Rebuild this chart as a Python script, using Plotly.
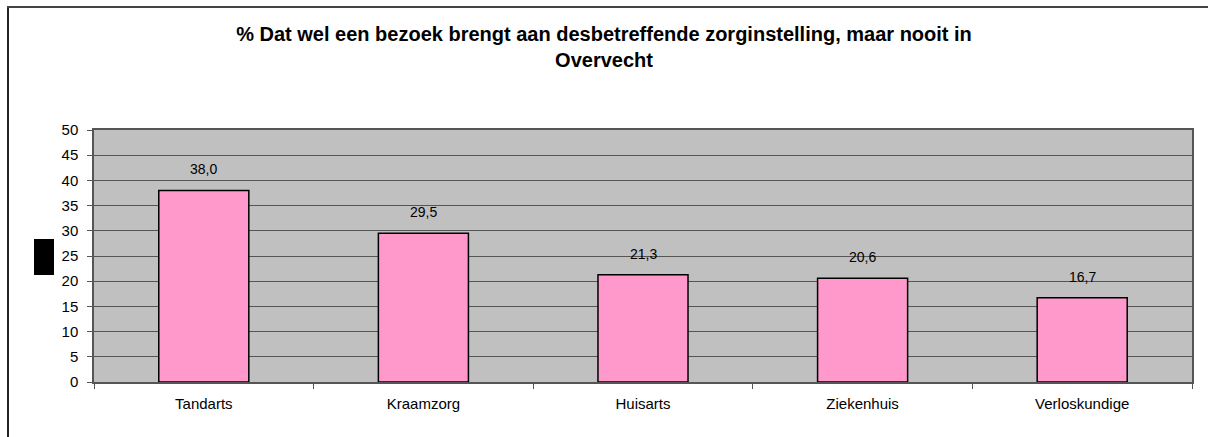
import plotly.graph_objects as go

categories = ["Tandarts", "Kraamzorg", "Huisarts", "Ziekenhuis", "Verloskundige"]
values = [38.0, 29.5, 21.3, 20.6, 16.7]
value_labels = ["38,0", "29,5", "21,3", "20,6", "16,7"]
title_lines = ["% Dat wel een bezoek brengt aan desbetreffende zorginstelling, maar nooit in", "Overvecht"]

W, H = 1208, 437
ml, mr, mt, mb = 94, 16, 130, 55
pw, ph = W - ml - mr, H - mt - mb
FONT = "Liberation Sans, Arial, sans-serif"

def px(x):
    return (x - ml) / pw

def py(y):
    return (H - mb - y) / ph

fig = go.Figure()
fig.add_trace(go.Bar(
    x=categories, y=values,
    marker=dict(color="#FF99CC", line=dict(color="#000000", width=1.5)),
    width=0.41,
    hoverinfo="x+y",
))

for c, v, t in zip(categories, values, value_labels):
    fig.add_annotation(x=c, y=v, text=t, showarrow=False, yanchor="bottom",
                       yshift=11, font=dict(family=FONT, size=14, color="#000"))

shapes = [
    dict(type="line", xref="paper", yref="paper", x0=px(8), x1=px(8), y0=py(H + 5), y1=py(7),
         line=dict(color="#222", width=2)),
    dict(type="line", xref="paper", yref="paper", x0=px(7), x1=px(W + 5), y0=py(7), y1=py(7),
         line=dict(color="#444", width=2)),
    dict(type="rect", xref="paper", yref="paper", x0=px(34), x1=px(54), y0=py(275), y1=py(239),
         fillcolor="#000", line=dict(width=0)),
]

fig.update_layout(
    width=W, height=H,
    margin=dict(l=ml, r=mr, t=mt, b=mb),
    paper_bgcolor="#FFFFFF",
    plot_bgcolor="#C0C0C0",
    showlegend=False,
    font=dict(family=FONT, size=14, color="#000"),
    title=dict(text="<br>".join("<b>" + s + "</b>" for s in title_lines),
               x=0.5, xref="container", xanchor="center",
               y=1 - 41 / H, yref="container", yanchor="top",
               font=dict(family=FONT, size=20, color="#000")),
    shapes=shapes,
    bargap=0.59,
)
fig.update_yaxes(range=[0, 50], dtick=5, tick0=0, showgrid=True, gridcolor="#555555", gridwidth=1,
                 ticks="outside", ticklen=5, tickcolor="#555", showline=True, linecolor="#555",
                 linewidth=1.5, mirror=True, zeroline=False, tickfont=dict(size=15),
                 ticklabelstandoff=6)
fig.update_xaxes(showgrid=False, ticks="outside", tickson="boundaries", ticklen=5, tickcolor="#555",
                 showline=True, linecolor="#555", linewidth=1.5, mirror=True, tickfont=dict(size=15),
                 ticklabelstandoff=7)

fig.write_html("out.html", config={"displayModeBar": False},
               post_script="document.body.style.margin='0px';")
